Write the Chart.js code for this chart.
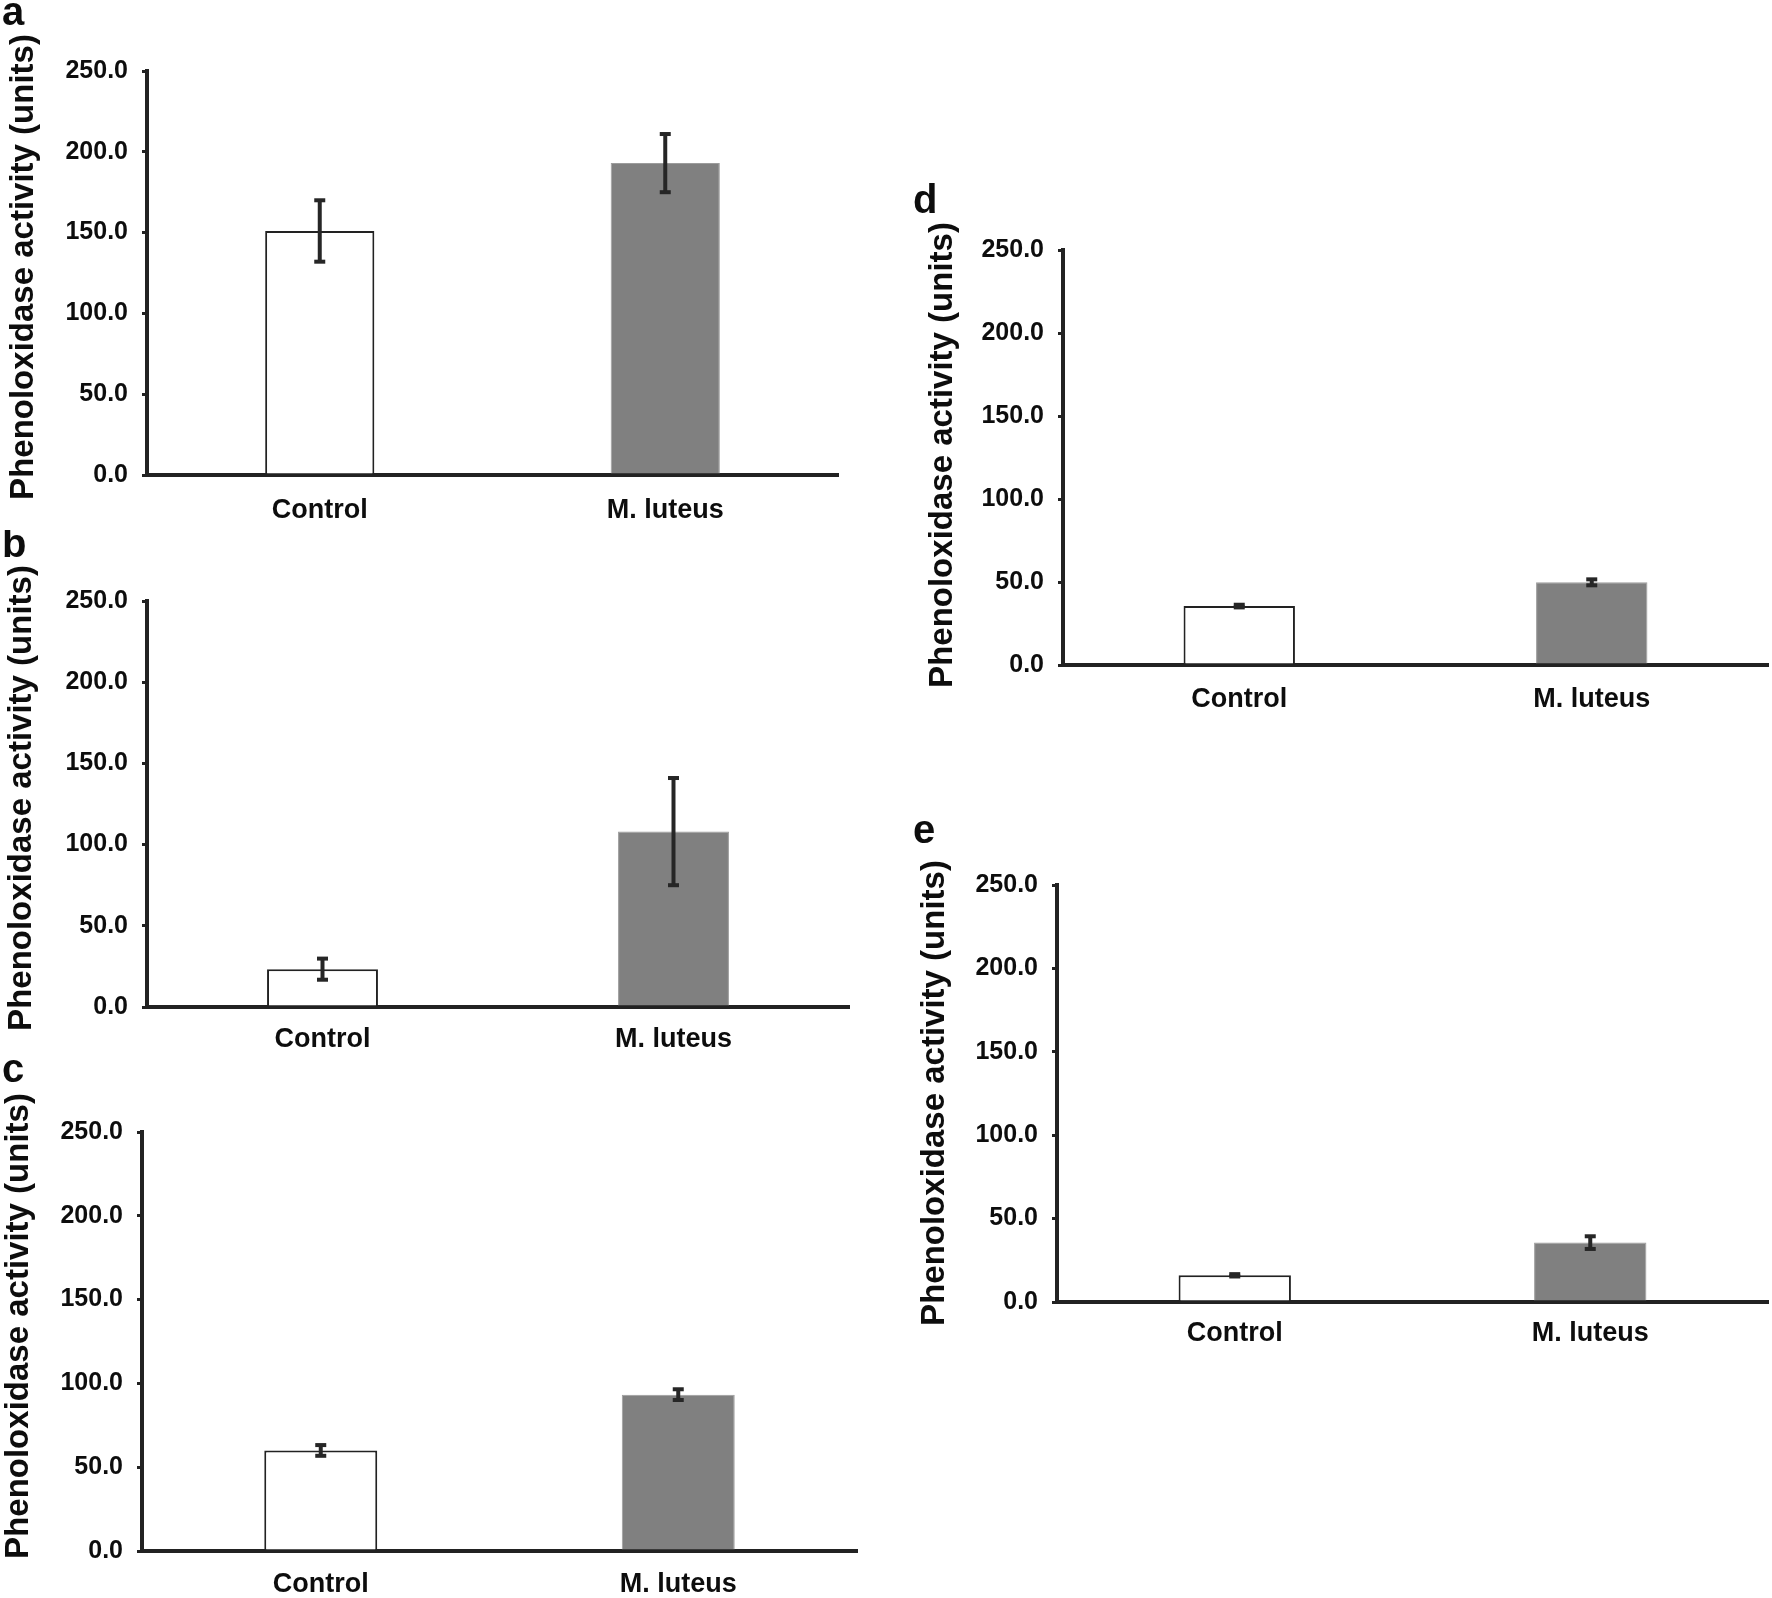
<!DOCTYPE html>
<html><head><meta charset="utf-8">
<script src="https://cdn.jsdelivr.net/npm/chart.js@4.4.1/dist/chart.umd.min.js"></script>
<style>
html,body{margin:0;padding:0;background:#fff;}
body{width:1772px;height:1598px;position:relative;overflow:hidden;}
canvas{position:absolute;}
</style></head><body>
<canvas id="pa"></canvas>
<canvas id="pb"></canvas>
<canvas id="pc"></canvas>
<canvas id="pd"></canvas>
<canvas id="pe"></canvas>
<script>
// ---- data ----
const categories = ['Control', 'M. luteus'];
const yTickValues = [0, 50, 100, 150, 200, 250];
const yTickLabels = ['0.0', '50.0', '100.0', '150.0', '200.0', '250.0'];
const yTitle = 'Phenoloxidase activity (units)';
const panelLetters = ['a', 'b', 'c', 'd', 'e'];
const meanA = [151, 193];
const errA = [19, 18];
const meanB = [23.3, 108];
const errB = [6.5, 33];
const meanC = [60, 93.3];
const errC = [3.2, 3.2];
const meanD = [35.5, 49.8];
const errD = [0.8, 1.8];
const meanE = [16, 35.6];
const errE = [0.7, 3.8];

// ---- style ----
const FONT = "'Liberation Sans', Arial, Helvetica, sans-serif";
const axisColor = '#222222';
const textColor = '#0d0d0d';
const barColors = ['#ffffff', '#808080'];
const barBorderColors = ['#222222', '#9c9c9c'];
const barBorderWidths = [2, 1];

// ---- layout (canvas box [left, top, w, h], plot area [L, R, T, B], title centre [x, y]) ----
const panels = [
  {id: 'pa', letter: 0, mean: meanA, err: errA, box: [0, 0, 860, 530],    area: [147, 838, 71, 475],    labelGap: 35, titlePos: [24, 267],   letterPos: [2, 25]},
  {id: 'pb', letter: 1, mean: meanB, err: errB, box: [0, 530, 870, 530],  area: [147, 849, 601, 1007],  labelGap: 32, titlePos: [22, 798],   letterPos: [2, 557]},
  {id: 'pc', letter: 2, mean: meanC, err: errC, box: [0, 1060, 880, 538], area: [142, 857, 1132, 1551], labelGap: 33, titlePos: [19, 1326],  letterPos: [2, 1082]},
  {id: 'pd', letter: 3, mean: meanD, err: errD, box: [900, 160, 872, 580], area: [1063, 1768, 250, 665], labelGap: 34, titlePos: [943, 455], letterPos: [913, 213]},
  {id: 'pe', letter: 4, mean: meanE, err: errE, box: [900, 790, 872, 590], area: [1057, 1768, 885, 1302], labelGap: 31, titlePos: [935, 1093], letterPos: [913, 843]}
];

const errorBarPlugin = {
  id: 'errorBars',
  afterDatasetsDraw(chart, args, opts) {
    const ctx = chart.ctx, ys = chart.scales.y;
    const meta = chart.getDatasetMeta(0);
    const ds = chart.data.datasets[0];
    ctx.save();
    ctx.strokeStyle = opts.color;
    ctx.fillStyle = opts.color;
    ctx.lineWidth = opts.lineWidth;
    meta.data.forEach((bar, i) => {
      const v = ds.data[i], e = opts.errors[i];
      const yTop = ys.getPixelForValue(v + e);
      const yBot = ys.getPixelForValue(v - e);
      ctx.beginPath();
      ctx.moveTo(bar.x, yTop);
      ctx.lineTo(bar.x, yBot);
      ctx.stroke();
      [yTop, yBot].forEach(yy => {
        ctx.fillRect(bar.x - opts.capWidth / 2, yy - opts.capThickness / 2, opts.capWidth, opts.capThickness);
      });
    });
    ctx.restore();
  }
};

// rotated y-axis title
const axisTitlePlugin = {
  id: 'axisTitle',
  afterDraw(chart, args, opts) {
    const ctx = chart.ctx;
    ctx.save();
    ctx.fillStyle = textColor;
    ctx.translate(opts.x, opts.y);
    ctx.rotate(-Math.PI / 2);
    ctx.font = 'bold ' + opts.size + 'px ' + FONT;
    ctx.textAlign = 'center';
    ctx.textBaseline = 'middle';
    ctx.fillText(opts.text, 0, 0);
    ctx.restore();
  }
};

// panel letter
const panelLetterPlugin = {
  id: 'panelLetter',
  beforeDraw(chart, args, opts) {
    const ctx = chart.ctx;
    ctx.save();
    ctx.fillStyle = textColor;
    ctx.font = 'bold 40px ' + FONT;
    ctx.textAlign = 'left';
    ctx.textBaseline = 'alphabetic';
    ctx.fillText(opts.text, opts.x, opts.y);
    ctx.restore();
  }
};

panels.forEach(p => {
  const [left, top, W, H] = p.box;
  const [L, R, T, B] = p.area;
  const cv = document.getElementById(p.id);
  cv.width = W; cv.height = H;
  cv.style.left = left + 'px'; cv.style.top = top + 'px';
  cv.style.width = W + 'px'; cv.style.height = H + 'px';
  new Chart(cv, {
    type: 'bar',
    data: {
      labels: categories,
      datasets: [{
        data: p.mean,
        backgroundColor: barColors,
        borderColor: barBorderColors,
        borderWidth: barBorderWidths,
        barPercentage: 0.316,
        categoryPercentage: 1
      }]
    },
    options: {
      responsive: false,
      animation: false,
      devicePixelRatio: 1,
      layout: {padding: {left: 0, top: T - top, right: left + W - R, bottom: 0}},
      plugins: {
        legend: {display: false},
        tooltip: {enabled: false},
        errorBars: {errors: p.err, color: '#262626', lineWidth: 4, capWidth: 11, capThickness: 4},
        axisTitle: {text: yTitle, size: 33, x: p.titlePos[0] - left, y: p.titlePos[1] - top},
        panelLetter: {text: panelLetters[p.letter], x: p.letterPos[0] - left, y: p.letterPos[1] - top}
      },
      scales: {
        x: {
          type: 'category',
          offset: true,
          grid: {display: true, drawOnChartArea: false, drawTicks: false},
          border: {display: true, width: 4, color: axisColor},
          ticks: {color: textColor, font: {family: FONT, size: 27, weight: 'bold'}, padding: p.labelGap - 16},
          afterFit(s) { s.height = top + H - B; }
        },
        y: {
          min: 0,
          max: 250,
          ticks: {
            stepSize: 50,
            color: textColor,
            font: {family: FONT, size: 25, weight: 'bold'},
            padding: 14,
            callback: v => yTickLabels[yTickValues.indexOf(v)]
          },
          grid: {display: true, drawOnChartArea: false, drawTicks: true, tickLength: 5, lineWidth: 3, color: axisColor},
          border: {display: true, width: 4, color: axisColor},
          title: {display: false, text: yTitle},
          afterFit(s) { s.width = L - left; }
        }
      }
    },
    plugins: [errorBarPlugin, axisTitlePlugin, panelLetterPlugin]
  });
});
</script>
</body></html>
